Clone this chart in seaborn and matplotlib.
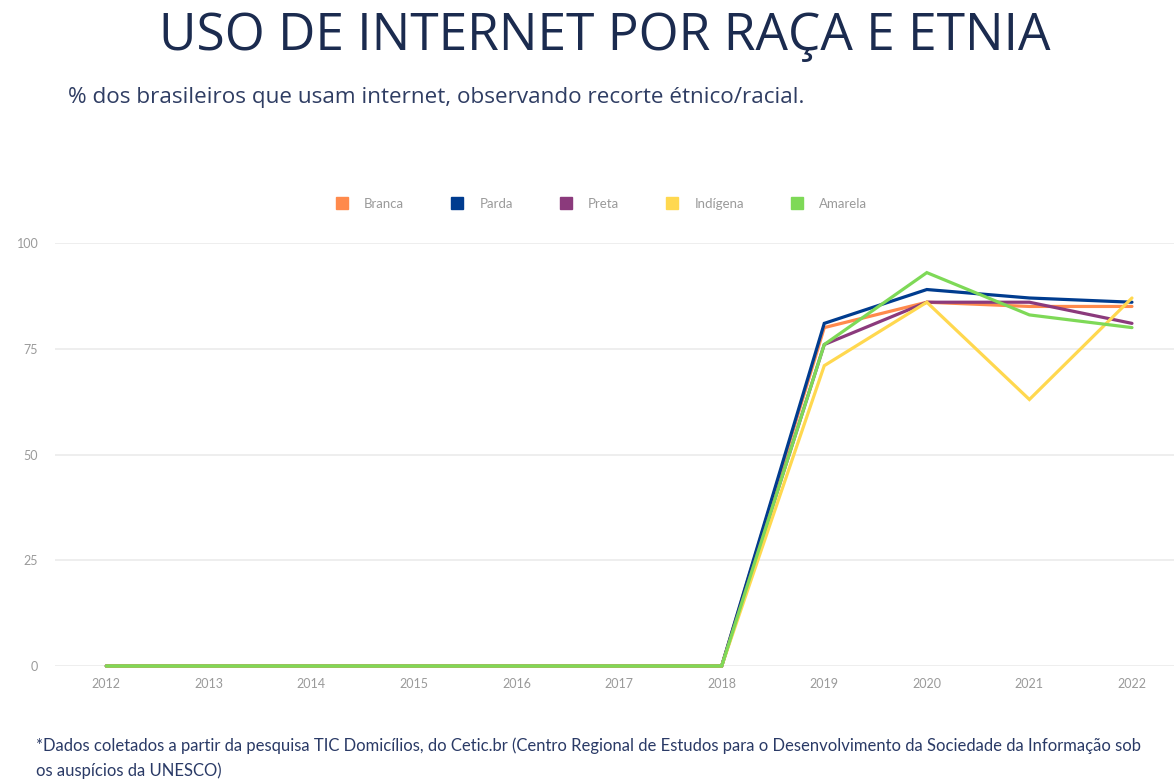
import matplotlib
matplotlib.use("Agg")
import matplotlib.pyplot as plt
import seaborn as sns
import pandas as pd
from matplotlib.lines import Line2D

years = [2012, 2013, 2014, 2015, 2016, 2017, 2018, 2019, 2020, 2021, 2022]
branca = [0, 0, 0, 0, 0, 0, 0, 80, 86, 85, 85]
parda = [0, 0, 0, 0, 0, 0, 0, 81, 89, 87, 86]
preta = [0, 0, 0, 0, 0, 0, 0, 76, 86, 86, 81]
indigena = [0, 0, 0, 0, 0, 0, 0, 71, 86, 63, 87]
amarela = [0, 0, 0, 0, 0, 0, 0, 76, 93, 83, 80]

series_names = ["Branca", "Parda", "Preta", "Indígena", "Amarela"]
series_values = [branca, parda, preta, indigena, amarela]
colors = ["#FF8A4C", "#003C8F", "#8B3A7C", "#FFD84F", "#7ED957"]

title = "USO DE INTERNET POR RAÇA E ETNIA"
subtitle = "% dos brasileiros que usam internet, observando recorte étnico/racial."
footer1 = ("*Dados coletados a partir da pesquisa TIC Domicílios, do Cetic.br (Centro Regional de Estudos "
           "para o Desenvolvimento da Sociedade da Informação sob")
footer2 = "os auspícios da UNESCO)"

rows = []
for name, vals in zip(series_names, series_values):
    for y, v in zip(years, vals):
        rows.append({"Ano": y, "Valor": v, "Raça": name})
df = pd.DataFrame(rows)

sns.set_theme(style="white")
plt.rcParams['font.family'] = ['Lato', 'DejaVu Sans']

W, H = 1174, 781
fig = plt.figure(figsize=(W / 100, H / 100), dpi=100)
ax = fig.add_axes([55 / W, 1 - 666 / H, 1 - 55 / W, (666 - 243) / H])

sns.lineplot(data=df, x="Ano", y="Valor", hue="Raça", hue_order=series_names,
             palette=colors, linewidth=2.3, ax=ax, legend=False)
for ln in ax.get_lines():
    ln.set_clip_on(False)
    ln.set_solid_joinstyle("miter")

ax.set_xlim(2011.5, 2022 + (1174 - 1132) / 102.5)
ax.set_ylim(0, 100)
ax.set_yticks([0, 25, 50, 75, 100])
ax.set_xticks(years)
ax.set_xticklabels([str(y) for y in years])
ax.grid(axis="y", color="#EBEBEB", linewidth=1.2)
ax.grid(axis="x", visible=False)
ax.set_axisbelow(True)
for s in ax.spines.values():
    s.set_visible(False)
ax.tick_params(axis="both", length=0, labelsize=9, labelcolor="#9A9A9A")
ax.tick_params(axis="y", pad=12)
ax.tick_params(axis="x", pad=9)
ax.set_xlabel("")
ax.set_ylabel("")

handles = [Line2D([0], [0], marker="s", linestyle="", markersize=9,
                  markerfacecolor=c, markeredgecolor=c) for c in colors]
fig.legend(handles, series_names, loc="center", bbox_to_anchor=(598 / W, 1 - 204 / H),
           ncol=5, frameon=False, fontsize=9.5, labelcolor="#9A9A9A",
           columnspacing=3.0, handletextpad=0.7)

fig.text(605 / W, 1 - 37 / H, title, ha="center", va="center", fontsize=37,
         color="#1B2B4F", family=["Open Sans", "DejaVu Sans"])
fig.text(68 / W, 1 - 98 / H, subtitle, ha="left", va="center", fontsize=16.2,
         color="#2F3D63", family=["Open Sans", "DejaVu Sans"])
fig.text(36 / W, 1 - 746 / H, footer1, ha="left", va="center", fontsize=12.0,
         color="#2A3A66")
fig.text(36 / W, 1 - 771 / H, footer2, ha="left", va="center", fontsize=12.0,
         color="#2A3A66")

fig.savefig("out.png", dpi=100, facecolor="white")
